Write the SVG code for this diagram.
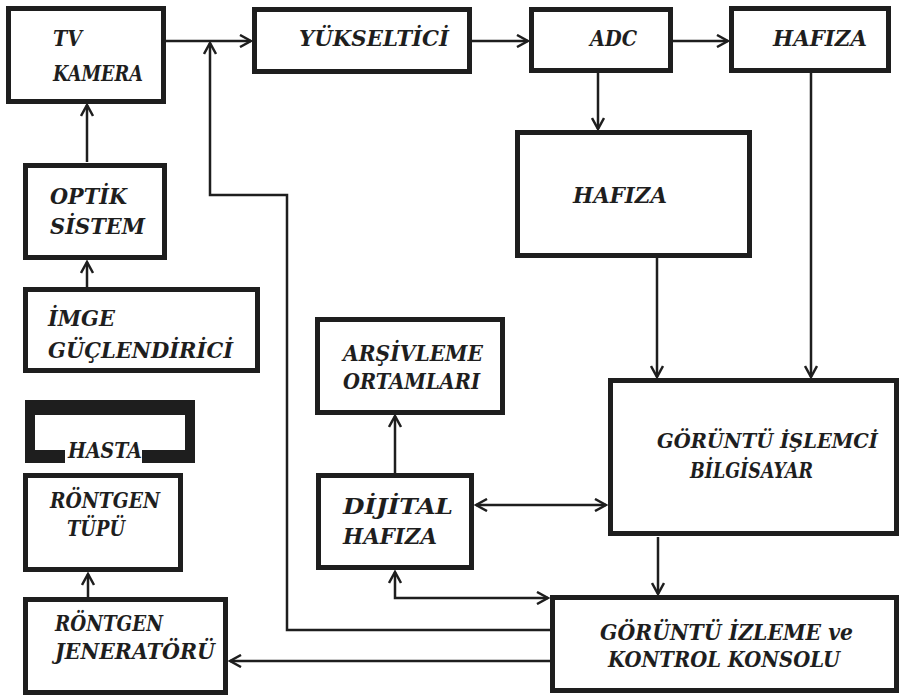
<svg xmlns="http://www.w3.org/2000/svg" width="901" height="696" viewBox="0 0 901 696">
<defs>
<style>
.box{fill:#fff;stroke:#1e1e1e;stroke-width:5}
.t{font-family:"DejaVu Serif","Liberation Serif",serif;font-style:italic;font-weight:bold;font-size:22px;fill:#1e1e1e}
.c{fill:none;stroke:#1e1e1e;stroke-width:2.5}
</style>
<marker id="ah" viewBox="0 0 14 14" markerWidth="14" markerHeight="14" refX="12" refY="7" orient="auto-start-reverse" markerUnits="userSpaceOnUse">
<path d="M1,1 L12,7 L1,13" fill="none" stroke="#1e1e1e" stroke-width="2.5"/>
</marker>
</defs>
<rect width="901" height="696" fill="#fff"/>
<g id="connectors">
<path class="c" d="M166,41 H251" marker-end="url(#ah)"/>
<path class="c" d="M550,630 H287 V195 H210 V43" marker-end="url(#ah)"/>
<path class="c" d="M472,41 H528" marker-end="url(#ah)"/>
<path class="c" d="M673,41 H728" marker-end="url(#ah)"/>
<path class="c" d="M598,73 V129" marker-end="url(#ah)"/>
<path class="c" d="M657,258 V377" marker-end="url(#ah)"/>
<path class="c" d="M811,73 V377" marker-end="url(#ah)"/>
<path class="c" d="M658,537 V594" marker-end="url(#ah)"/>
<path class="c" d="M476,505 H606" marker-start="url(#ah)" marker-end="url(#ah)"/>
<path class="c" d="M395,473 V416" marker-end="url(#ah)"/>
<path class="c" d="M395,572 V598 H548" marker-start="url(#ah)" marker-end="url(#ah)"/>
<path class="c" d="M550,661 H230" marker-end="url(#ah)"/>
<path class="c" d="M87,162 V105" marker-end="url(#ah)"/>
<path class="c" d="M87,287 V262" marker-end="url(#ah)"/>
<path class="c" d="M88,597 V574" marker-end="url(#ah)"/>
</g>
<g id="tv-kamera">
<rect class="box" x="8.5" y="8.5" width="155" height="93"/>
<text class="t" x="53" y="46" textLength="29" lengthAdjust="spacingAndGlyphs">TV</text>
<text class="t" x="53" y="81" textLength="90" lengthAdjust="spacingAndGlyphs">KAMERA</text>
</g>
<g id="yukseltici">
<rect class="box" x="254.5" y="9.5" width="215" height="62"/>
<text class="t" x="299" y="46" textLength="150" lengthAdjust="spacingAndGlyphs">YÜKSELTİCİ</text>
</g>
<g id="adc">
<rect class="box" x="531.5" y="9.5" width="139" height="61"/>
<text class="t" x="590" y="46" textLength="47" lengthAdjust="spacingAndGlyphs">ADC</text>
</g>
<g id="hafiza-top">
<rect class="box" x="731.5" y="8.5" width="157" height="62"/>
<text class="t" x="773" y="46" textLength="94" lengthAdjust="spacingAndGlyphs">HAFIZA</text>
</g>
<g id="hafiza-mid">
<rect class="box" x="517.5" y="132.5" width="232" height="123"/>
<text class="t" x="573" y="203" textLength="94" lengthAdjust="spacingAndGlyphs">HAFIZA</text>
</g>
<g id="optik-sistem">
<rect class="box" x="25.5" y="165.5" width="139" height="92"/>
<text class="t" x="50" y="204" textLength="77" lengthAdjust="spacingAndGlyphs">OPTİK</text>
<text class="t" x="50" y="234" textLength="95" lengthAdjust="spacingAndGlyphs">SİSTEM</text>
</g>
<g id="imge-guclendirici">
<rect class="box" x="25.5" y="289.5" width="232" height="81"/>
<text class="t" x="48" y="326" textLength="67" lengthAdjust="spacingAndGlyphs">İMGE</text>
<text class="t" x="48" y="358" textLength="185" lengthAdjust="spacingAndGlyphs">GÜÇLENDİRİCİ</text>
</g>
<g id="hasta">
<path d="M25,400 H195 V463 H142 V450 H185 V415 H35 V450 H65 V463 H25 Z" fill="#1e1e1e"/>
<text class="t" x="68" y="458" textLength="74" lengthAdjust="spacingAndGlyphs">HASTA</text>
</g>
<g id="rontgen-tupu">
<rect class="box" x="25.5" y="475.5" width="155" height="94"/>
<text class="t" x="50" y="508" textLength="110" lengthAdjust="spacingAndGlyphs">RÖNTGEN</text>
<text class="t" x="67" y="536" textLength="58" lengthAdjust="spacingAndGlyphs">TÜPÜ</text>
</g>
<g id="rontgen-jeneratoru">
<rect class="box" x="25.5" y="599.5" width="200" height="93"/>
<text class="t" x="55" y="631" textLength="108" lengthAdjust="spacingAndGlyphs">RÖNTGEN</text>
<text class="t" x="55" y="659" textLength="160" lengthAdjust="spacingAndGlyphs">JENERATÖRÜ</text>
</g>
<g id="arsivleme">
<rect class="box" x="317.5" y="319.5" width="185" height="93"/>
<text class="t" x="343" y="361" textLength="140" lengthAdjust="spacingAndGlyphs">ARŞİVLEME</text>
<text class="t" x="343" y="389" textLength="137" lengthAdjust="spacingAndGlyphs">ORTAMLARI</text>
</g>
<g id="dijital-hafiza">
<rect class="box" x="318.5" y="475.5" width="153" height="92"/>
<text class="t" x="343" y="514" textLength="110" lengthAdjust="spacingAndGlyphs">DİJİTAL</text>
<text class="t" x="343" y="544" textLength="94" lengthAdjust="spacingAndGlyphs">HAFIZA</text>
</g>
<g id="goruntu-islemci">
<rect class="box" x="610.5" y="380.5" width="286" height="153"/>
<text class="t" x="657" y="448" textLength="221" lengthAdjust="spacingAndGlyphs" style="font-size:20px">GÖRÜNTÜ İŞLEMCİ</text>
<text class="t" x="690" y="478" textLength="123" lengthAdjust="spacingAndGlyphs">BİLGİSAYAR</text>
</g>
<g id="goruntu-izleme">
<rect class="box" x="552.5" y="597.5" width="344" height="93"/>
<text class="t" x="600" y="640" textLength="253" lengthAdjust="spacingAndGlyphs">GÖRÜNTÜ İZLEME ve</text>
<text class="t" x="608" y="667" textLength="232" lengthAdjust="spacingAndGlyphs">KONTROL KONSOLU</text>
</g>
</svg>
